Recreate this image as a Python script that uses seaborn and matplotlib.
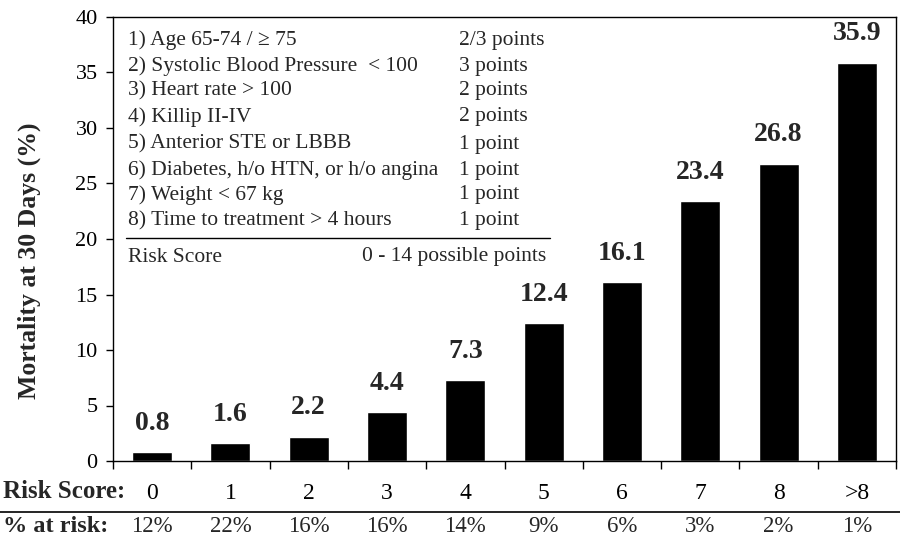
import matplotlib
matplotlib.use("Agg")
import matplotlib.pyplot as plt
import matplotlib.transforms as mtransforms
from matplotlib.lines import Line2D
import seaborn as sns
import pandas as pd

risk_scores = ["0", "1", "2", "3", "4", "5", "6", "7", "8", ">8"]
mortality = [0.8, 1.6, 2.2, 4.4, 7.3, 12.4, 16.1, 23.4, 26.8, 35.9]
pct_at_risk = ["12%", "22%", "16%", "16%", "14%", "9%", "6%", "3%", "2%", "1%"]
criteria = ["1) Age 65-74 / \u2265 75", "2) Systolic Blood Pressure  < 100", "3) Heart rate > 100",
            "4) Killip II-IV", "5) Anterior STE or LBBB", "6) Diabetes, h/o HTN, or h/o angina",
            "7) Weight < 67 kg", "8) Time to treatment > 4 hours"]
points = ["2/3 points", "3 points", "2 points", "2 points", "1 point", "1 point", "1 point", "1 point"]
y_ticks = [0, 5, 10, 15, 20, 25, 30, 35, 40]

sns.set_theme(style="white")
plt.rcParams['font.family'] = ['Liberation Serif', 'DejaVu Serif']

df = pd.DataFrame({"score": risk_scores, "mortality": mortality})

W, H = 900, 539
fig = plt.figure(figsize=(9, 5.39), dpi=100)
ax_l, ax_r, ax_t, ax_b = 113, 896, 17, 461
ax = fig.add_axes([ax_l/W, (H-ax_b)/H, (ax_r-ax_l)/W, (ax_b-ax_t)/H])

sns.barplot(data=df, x="score", y="mortality", order=risk_scores, color="black",
            saturation=1, width=0.51, ax=ax)

ax.set_ylim(0, 40)
ax.set_xlim(-0.5, len(risk_scores) - 0.5)
ax.set_yticks(y_ticks)
ax.set_yticklabels([str(t) for t in y_ticks], fontsize=16)
ax.set_xlabel("")
ax.set_ylabel("Mortality at 30 Days (%)", fontsize=18.5, fontweight="bold")
ax.yaxis.set_label_coords(-0.092, 0.452)
for s in ax.spines.values():
    s.set_visible(True)
    s.set_color("black")
    s.set_linewidth(1.0)

ax.tick_params(axis="y", direction="out", length=5, width=1, pad=6, left=True, colors="black")
ax.set_xticks(range(len(risk_scores)))
ax.set_xticklabels(risk_scores, fontsize=17)
ax.tick_params(axis="x", which="major", length=0, pad=16, colors="black")
ax.set_xticks([i - 0.5 for i in range(len(risk_scores) + 1)], minor=True)
ax.tick_params(axis="x", which="minor", direction="out", length=6, width=1, bottom=True, color="black")

# bar value labels
for i, v in enumerate(mortality):
    ax.annotate(f"{v}", xy=(i, v), xytext=(0, 16), textcoords="offset points",
                ha="center", va="baseline", fontsize=20, fontweight="bold")

# text box with criteria
aw, ah = ax_r - ax_l, ax_b - ax_t
def axx(px):
    return (px - ax_l) / aw
def axy(py):
    return (ax_b - py) / ah

row_y = [40, 66, 91, 117, 144, 170, 195, 221]
for y, c, p in zip(row_y, criteria, points):
    ax.text(axx(128), axy(y), c, transform=ax.transAxes, fontsize=15.5, va="center", ha="left")
    ax.text(axx(459), axy(y), p, transform=ax.transAxes, fontsize=15.5, va="center", ha="left")
ax.plot([axx(126), axx(550)], [axy(238)]*2, transform=ax.transAxes, color="black", lw=1.0, clip_on=False)
ax.text(axx(128), axy(257), "Risk Score", transform=ax.transAxes, fontsize=15.5, va="center", ha="left")
ax.text(axx(546), axy(257), "0 - 14 possible points", transform=ax.transAxes, fontsize=15.5, va="center", ha="right")

# bottom rows
fig.text(3/W, (H-491)/H, "Risk Score:", fontsize=18, fontweight="bold", ha="left", va="center")
fig.add_artist(Line2D([0, 1], [(H-512)/H]*2, transform=fig.transFigure, color="black", lw=1.2))
fig.text(3/W, (H-532)/H, "% at risk:", fontsize=17.5, fontweight="bold", ha="left", va="baseline")
blend = mtransforms.blended_transform_factory(ax.transData, fig.transFigure)
for i, p in enumerate(pct_at_risk):
    ax.text(i, (H-532)/H, p, transform=blend, fontsize=16.5, ha="center", va="baseline", clip_on=False)

fig.savefig("out.png", dpi=100)
